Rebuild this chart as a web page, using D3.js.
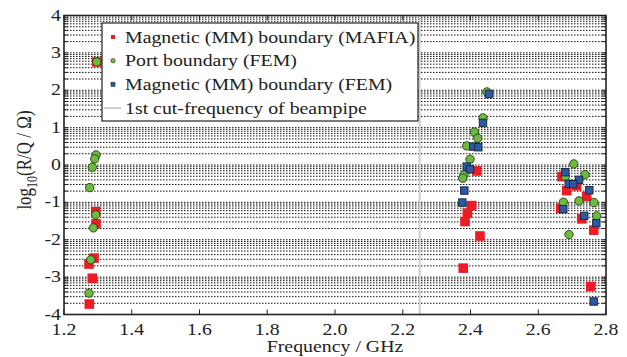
<!DOCTYPE html>
<html>
<head>
<meta charset="utf-8">
<script src="https://cdn.jsdelivr.net/npm/d3@7"></script>
<style>
  body { margin: 0; background: #fff; }
  svg { display: block; }
</style>
</head>
<body>
<div id="chart"></div>
<script>
// [frequency GHz, log10(R/Q)]
const mafia = [
  [1.297, 2.757], [1.2936, -1.246], [1.2945, -1.575], [1.2886, -2.49], [1.2738, -2.65],
  [1.2835, -3.03], [1.2747, -3.72],
  [2.4183, -0.16], [2.4035, -1.086], [2.3906, -1.289], [2.3838, -1.513], [2.428, -1.9],
  [2.3787, -2.759],
  [2.6701, -0.31], [2.7135, -0.559], [2.684, -0.684], [2.743, -0.845], [2.6663, -1.155],
  [2.7283, -1.441], [2.7637, -1.743], [2.7548, -3.251]
];
const port = [
  [1.297, 2.757], [1.2945, 0.27], [1.2906, 0.163], [1.2835, -0.06], [1.2759, -0.604],
  [1.2936, -1.334], [1.2865, -1.682], [1.2788, -2.537], [1.2738, -3.428],
  [2.4487, 1.955], [2.4369, 1.259], [2.4112, 0.88], [2.4213, 0.717], [2.3888, 0.511],
  [2.3985, 0.155], [2.3808, -0.265], [2.377, -0.353],
  [2.7047, 0.029], [2.6799, -0.31], [2.738, -0.257], [2.674, -0.995], [2.7203, -0.96],
  [2.7646, -1.005], [2.7725, -1.361], [2.6908, -1.861]
];
const magFem = [
  [2.4546, 1.9], [2.4369, 1.126], [2.4083, 0.492], [2.423, 0.476], [2.3888, -0.043],
  [2.3985, -0.112], [2.3817, -0.684], [2.3758, -1.005],
  [2.6799, -0.193], [2.7203, -0.398], [2.6899, -0.505], [2.7035, -0.513], [2.7507, -0.674],
  [2.674, -1.182], [2.7359, -1.361], [2.7714, -1.556], [2.7637, -3.652]
];
const cutFreq = 2.25;
const xTicks = [1.2, 1.4, 1.6, 1.8, 2.0, 2.2, 2.4, 2.6, 2.8];
const yTicks = [-4, -3, -2, -1, 0, 1, 2, 3, 4];
const legendLabels = [
  "Magnetic (MM) boundary (MAFIA)",
  "Port boundary (FEM)",
  "Magnetic (MM) boundary (FEM)",
  "1st cut-frequency of beampipe"
];

const W = 627, H = 357;
const SX = 1.24; // picture is stretched horizontally
const FONT = "'Liberation Serif', 'DejaVu Serif', serif";
const red = "#ed1c24", green = "#6cba3e", blue = "#2a5aa6", cutCol = "#d3cdc5";

const svg = d3.select("#chart").append("svg").attr("width", W).attr("height", H)
  .attr("font-family", FONT);

const x = d3.scaleLinear().domain([1.2, 2.8]).range([64, 606]);
const y = d3.scaleLinear().domain([-4, 4]).range([314.5, 15.5]);

function label(parent, px, py, str, anchor, size) {
  const g = parent.append("g").attr("transform", `translate(${px},${py}) scale(${SX},1)`);
  return g.append("text")
    .attr("font-family", FONT).attr("fill", "#222")
    .attr("text-anchor", anchor).attr("font-size", size).text(str);
}

// minor log-style grid
const minor = [];
for (let n = -4; n < 4; n++) {
  for (let k = 1; k <= 9; k++) minor.push(n + Math.log10(k));
}
svg.append("g").selectAll("line").data(minor).enter().append("line")
  .attr("x1", x(1.2)).attr("x2", x(2.8))
  .attr("y1", d => y(d)).attr("y2", d => y(d))
  .attr("stroke", "#111").attr("stroke-width", 1)
  .attr("stroke-dasharray", "1.5,1.5");

// minor ticks on left and right, major on top and bottom
const tk = svg.append("g");
tk.selectAll(".tl").data(minor).enter().append("line")
  .attr("x1", x(1.2)).attr("x2", x(1.2) + 4)
  .attr("y1", d => y(d)).attr("y2", d => y(d))
  .attr("stroke", "#222").attr("stroke-width", 1);
tk.selectAll(".tr").data(minor).enter().append("line")
  .attr("x1", x(2.8)).attr("x2", x(2.8) - 4)
  .attr("y1", d => y(d)).attr("y2", d => y(d))
  .attr("stroke", "#222").attr("stroke-width", 1);
tk.selectAll(".tb").data(xTicks).enter().append("line")
  .attr("x1", d => x(d)).attr("x2", d => x(d))
  .attr("y1", y(-4)).attr("y2", y(-4) - 5)
  .attr("stroke", "#222").attr("stroke-width", 1);
tk.selectAll(".tt").data(xTicks).enter().append("line")
  .attr("x1", d => x(d)).attr("x2", d => x(d))
  .attr("y1", y(4)).attr("y2", y(4) + 5)
  .attr("stroke", "#222").attr("stroke-width", 1);

// cut-off frequency
svg.append("line")
  .attr("x1", x(cutFreq)).attr("x2", x(cutFreq))
  .attr("y1", y(4)).attr("y2", y(-4))
  .attr("stroke", cutCol).attr("stroke-width", 2);

// markers
svg.append("g").selectAll("rect").data(mafia).enter().append("rect")
  .attr("x", d => x(d[0]) - 4.8).attr("y", d => y(d[1]) - 4.8)
  .attr("width", 9.6).attr("height", 9.6).attr("fill", red);
svg.append("g").selectAll("circle").data(port).enter().append("circle")
  .attr("cx", d => x(d[0])).attr("cy", d => y(d[1])).attr("r", 4.2)
  .attr("fill", green).attr("stroke", "#213d14").attr("stroke-width", 0.9);
svg.append("g").selectAll("rect").data(magFem).enter().append("rect")
  .attr("x", d => x(d[0]) - 3.7).attr("y", d => y(d[1]) - 3.7)
  .attr("width", 7.4).attr("height", 7.4)
  .attr("fill", blue).attr("stroke", "#1b2a40").attr("stroke-width", 1);

// frame
svg.append("rect")
  .attr("x", x(1.2)).attr("y", y(4))
  .attr("width", x(2.8) - x(1.2)).attr("height", y(-4) - y(4))
  .attr("fill", "none").attr("stroke", "#222").attr("stroke-width", 1.6);

// tick labels
xTicks.forEach(t => label(svg, x(t), 335, t.toFixed(1), "middle", 16));
yTicks.forEach(t => label(svg, 61, y(t) + 5, String(t), "end", 16));

// axis titles
label(svg, x(2.0), 352, "Frequency / GHz", "middle", 16);
const yl = svg.append("g").attr("transform", "translate(31,160) rotate(-90) scale(1,1.2)")
  .append("text").attr("font-family", FONT).attr("fill", "#222")
  .attr("text-anchor", "middle").attr("font-size", 17);
yl.append("tspan").text("log");
yl.append("tspan").attr("dy", 5).attr("font-size", 12).text("10");
yl.append("tspan").attr("dy", -5).text("(R/Q / Ω)");

// legend
const lg = svg.append("g");
lg.append("rect").attr("x", 102).attr("y", 23).attr("width", 316).attr("height", 98)
  .attr("fill", "#fff").attr("stroke", "#222").attr("stroke-width", 1.2);
const rowY = i => 37 + i * 23.7;
lg.append("rect").attr("x", 111).attr("y", rowY(0) - 2).attr("width", 4).attr("height", 4).attr("fill", red);
lg.append("circle").attr("cx", 113).attr("cy", rowY(1)).attr("r", 2.2)
  .attr("fill", green).attr("stroke", "#213d14").attr("stroke-width", 0.6);
lg.append("rect").attr("x", 111).attr("y", rowY(2) - 2).attr("width", 4).attr("height", 4)
  .attr("fill", blue).attr("stroke", "#1b2a40").attr("stroke-width", 0.6);
lg.append("line").attr("x1", 104).attr("x2", 121).attr("y1", rowY(3)).attr("y2", rowY(3))
  .attr("stroke", cutCol).attr("stroke-width", 2);
legendLabels.forEach((s, i) => label(lg, 125, rowY(i) + 5.5, s, "start", 16));
</script>
</body>
</html>
